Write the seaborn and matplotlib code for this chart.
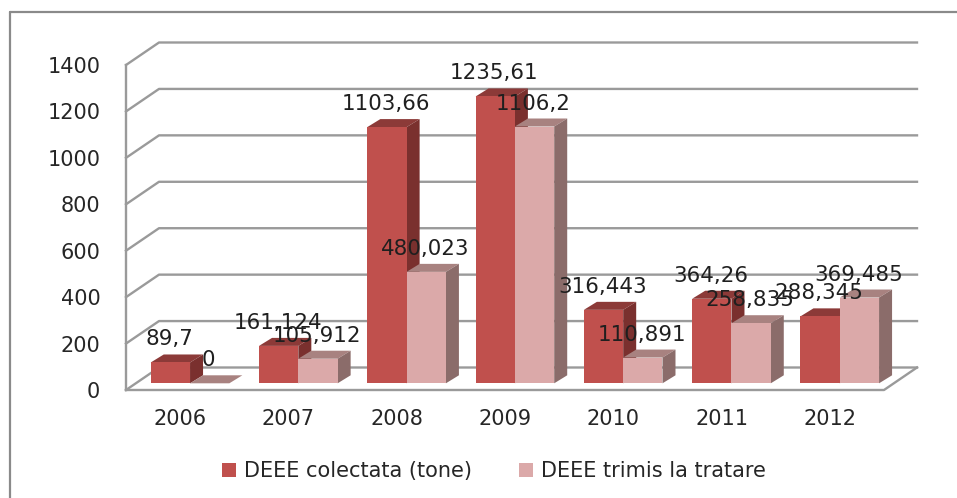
import numpy as np
import pandas as pd
import matplotlib
matplotlib.use("Agg")
import matplotlib.pyplot as plt
from matplotlib.lines import Line2D
from matplotlib.patches import Polygon
import seaborn as sns

years = ["2006", "2007", "2008", "2009", "2010", "2011", "2012"]
colectata = [89.7, 161.124, 1103.66, 1235.61, 316.443, 364.26, 288.345]
trimis = [0, 105.912, 480.023, 1106.2, 110.891, 258.835, 369.485]
name_a = "DEEE colectata (tone)"
name_b = "DEEE trimis la tratare"
y_ticks = [0, 200, 400, 600, 800, 1000, 1200, 1400]

W, H = 957, 498
sns.set_style("white")
plt.rcParams["font.family"] = ["DejaVu Sans"]
plt.rcParams["text.color"] = "#262626"
fig = plt.figure(figsize=(W / 100, H / 100), dpi=100)
ax = fig.add_axes([126 / W, (H - 390) / H, 758 / W, 325 / H])

df = pd.DataFrame({
    "year": years * 2,
    "value": colectata + trimis,
    "series": [name_a] * len(years) + [name_b] * len(years),
})
front = {name_a: "#c0504d", name_b: "#dba9a9"}
top = {name_a: "#8c3a38", name_b: "#a88280"}
side = {name_a: "#7a302e", name_b: "#8b6c6a"}

sns.barplot(data=df, x="year", y="value", hue="series", palette=front,
            hue_order=[name_a, name_b], width=0.726, saturation=1,
            linewidth=0, ax=ax, zorder=3, legend=True)
ax.set_xlim(-0.5, 6.5)
ax.set_ylim(0, 1400)
ax.set_xlabel("")
ax.set_ylabel("")
sns.despine(ax=ax, left=True, bottom=True)
ax.set_facecolor("none")
ax.set_yticks(y_ticks)
ax.tick_params(axis="y", length=0, pad=18.5, labelsize=15, labelcolor="#262626")
ax.tick_params(axis="x", length=0, pad=14, labelsize=15, labelcolor="#262626")

px_x = 758 / 7          # pixels per category
px_y = 325 / 1400       # pixels per value unit
wall_dx, wall_dy = 33 / px_x, 22.5 / px_y
bar_dx, bar_dy = 9.9 / px_x, 6.7 / px_y
dep_dx, dep_dy = 13 / px_x, 8 / px_y

# Walls and floor
grid = dict(color="#9a9a9a", lw=1.7, zorder=1, clip_on=False, solid_capstyle="projecting")
x0, x1 = -0.5, 6.5
for v in y_ticks:
    ax.plot([x0, x0 + wall_dx, x1 + wall_dx], [v, v + wall_dy, v + wall_dy], **grid)
ax.plot([x0, x0], [0, 1400], **grid)
ax.plot([x0, x1, x1 + wall_dx], [0, 0, wall_dy], **grid)

# Box faces
for s, (name, cont, vals) in enumerate(zip([name_a, name_b], ax.containers, [colectata, trimis])):
    for bar, v in zip(cont, vals):
        bar.set_x(bar.get_x() + bar_dx)
        bar.set_y(bar_dy)
        bar.set_clip_on(False)
        bar.set_zorder(3 + s)
        xl = bar.get_x()
        xr = xl + bar.get_width()
        yb = bar_dy
        yt = bar_dy + v
        ax.add_patch(Polygon([(xl, yt), (xr, yt), (xr + dep_dx, yt + dep_dy), (xl + dep_dx, yt + dep_dy)],
                             closed=True, fc=top[name], ec="none", zorder=2.9 + s, clip_on=False))
        ax.add_patch(Polygon([(xr, yb), (xr + dep_dx, yb + dep_dy), (xr + dep_dx, yt + dep_dy), (xr, yt)],
                             closed=True, fc=side[name], ec="none", zorder=2.9 + s, clip_on=False))
        ax.annotate(f"{v:g}".replace(".", ","), ((xl + xr) / 2, yt), xytext=(-1, 23),
                    textcoords="offset pixels", ha="center", va="center",
                    fontsize=15.4, color="#1f1f1f", zorder=10, annotation_clip=False)

# Outer chart frame (left and top only are in the crop)
frame = dict(color="#8a8a8a", lw=1.6, transform=fig.transFigure)
fig.add_artist(Line2D([9.5 / W, 9.5 / W], [0, (H - 12) / H], **frame))
fig.add_artist(Line2D([9.5 / W, 1], [(H - 12) / H, (H - 12) / H], **frame))

ax.legend(loc="center", bbox_to_anchor=(494 / W, (H - 471) / H), bbox_transform=fig.transFigure,
          ncols=2, frameon=False, fontsize=15, handlelength=0.68, handleheight=0.68,
          handletextpad=0.37, columnspacing=2.25, borderpad=0, labelcolor="#262626")

fig.savefig("out.png", dpi=100, facecolor="white")
